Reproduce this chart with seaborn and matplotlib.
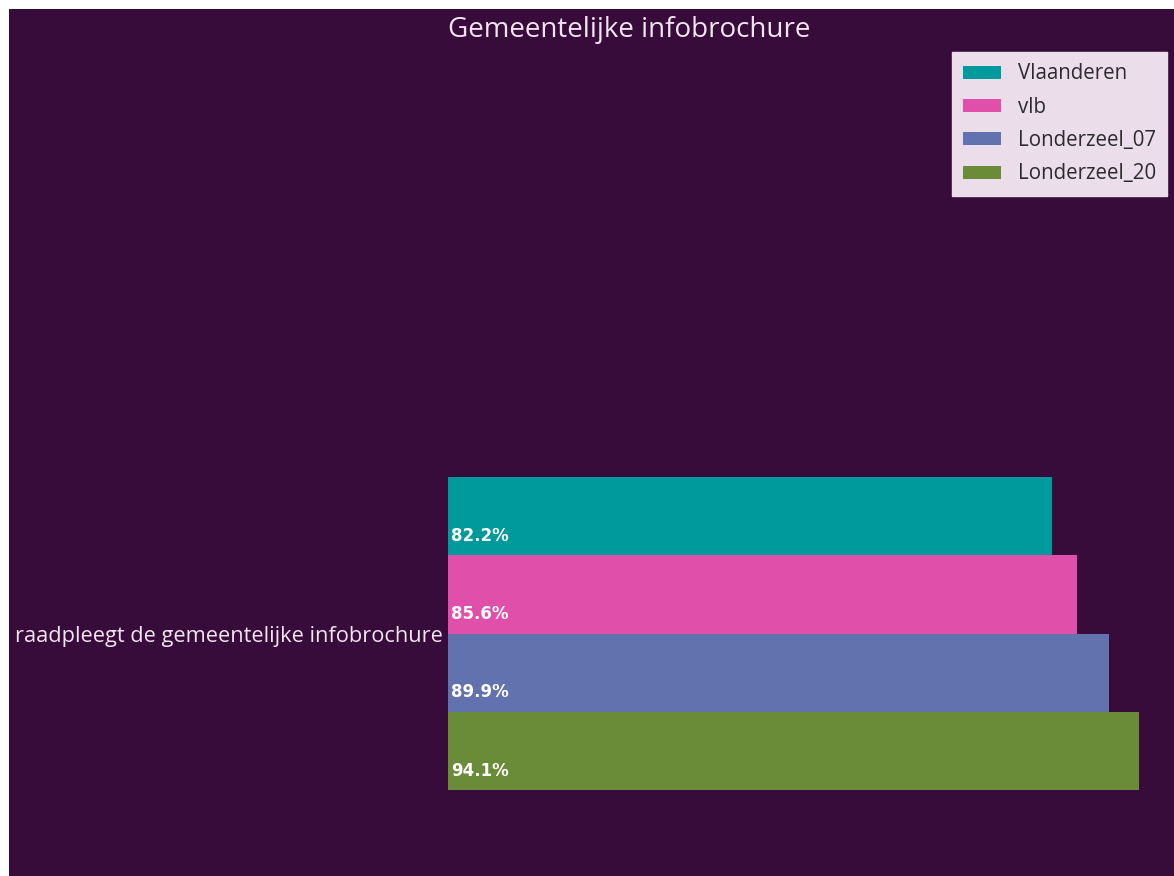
import matplotlib
matplotlib.use("Agg")
import matplotlib.pyplot as plt
from matplotlib.patches import Rectangle
import seaborn as sns
import pandas as pd

# Data
vraag = ["raadpleegt de gemeentelijke infobrochure"]
groepen = ["Vlaanderen", "vlb", "Londerzeel_07", "Londerzeel_20"]
percentages = [82.2, 85.6, 89.9, 94.1]
kleuren = ["#009A9C", "#E050AB", "#6272AE", "#6A8C38"]
titel = "Gemeentelijke infobrochure"

bg = "#370B3A"
txt = "#F2E4F0"

df = pd.DataFrame({
    "vraag": vraag * len(groepen),
    "groep": groepen,
    "pct": percentages,
})

sns.set_style("white")
plt.rcParams["font.family"] = ["Open Sans", "DejaVu Sans"]

W, H = 1174, 876
fig = plt.figure(figsize=(W / 100, H / 100), dpi=100, facecolor="white")
# purple page area (picture is cropped out of a document with white margin)
fig.patches.append(Rectangle((9 / W, 0), 1 - 9 / W, 1 - 9 / H,
                             transform=fig.transFigure, facecolor=bg,
                             edgecolor="none", zorder=-10))

ax = fig.add_axes([448 / W, (H - 829.5) / H, (W - 448) / W, 391.5 / H])
ax.patch.set_alpha(0)

sns.barplot(data=df, x="pct", y="vraag", hue="groep", hue_order=groepen,
            palette=kleuren, orient="h", saturation=1, linewidth=0, ax=ax)

# percentage labels at left side of each bar, lower half
for cont in ax.containers:
    for bar in cont:
        ax.text(bar.get_x() + 0.4, bar.get_y() + bar.get_height() * 0.75,
                f"{bar.get_width():.1f}%", color="white", fontsize=12,
                fontweight="bold", family="DejaVu Sans", va="center", ha="left")

handles, labels = ax.get_legend_handles_labels()
if ax.get_legend() is not None:
    ax.get_legend().remove()

ax.set_xlabel("")
ax.set_ylabel("")
ax.set_xticks([])
ax.tick_params(axis="y", length=0, labelsize=15.7, labelcolor=txt, pad=4)
for s in ax.spines.values():
    s.set_visible(False)

leg = fig.legend(handles, labels, loc="upper right",
                 bbox_to_anchor=(1167 / W, 1 - 52 / H), fontsize=14.8,
                 labelspacing=0.6, handlelength=1.85, handleheight=0.6,
                 handletextpad=0.8, borderpad=0.55, borderaxespad=0,
                 frameon=True, fancybox=False)
leg.get_frame().set_facecolor("#EBDDEA")
leg.get_frame().set_edgecolor("#EBDDEA")
leg.get_frame().set_alpha(1)
for t in leg.get_texts():
    t.set_color("#2E2A2E")

fig.text(629 / W, 1 - 30 / H, titel, ha="center", va="center",
         fontsize=20, color=txt)

fig.savefig("out.png", dpi=100, facecolor=fig.get_facecolor())
